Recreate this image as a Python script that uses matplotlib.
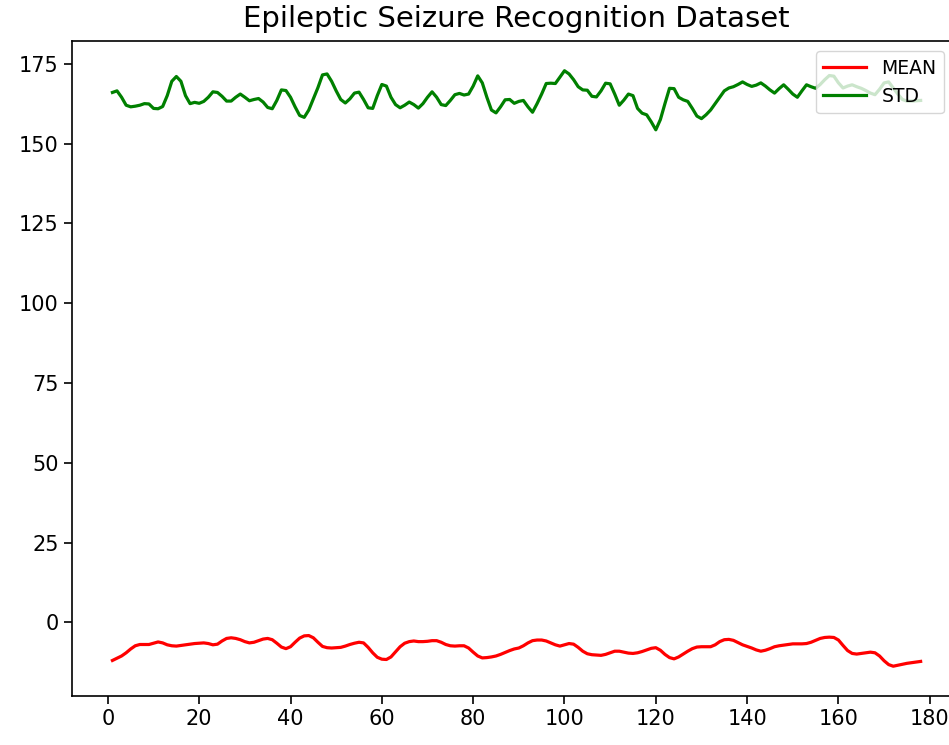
import numpy as np
import matplotlib
matplotlib.use("Agg")
import matplotlib.pyplot as plt

# feature index X1..X178
features = np.arange(1, 179)

# per-feature standard deviation
stdVals = [166.0, 166.5, 164.5, 162.0, 161.5, 161.7, 162.0, 162.5, 162.4, 161.0,
           160.9, 161.6, 165.0, 169.5, 171.0, 169.5, 165.0, 162.5, 162.9, 162.6,
           163.2, 164.5, 166.2, 166.0, 164.8, 163.3, 163.3, 164.5, 165.5, 164.5,
           163.4, 163.8, 164.1, 163.0, 161.3, 160.9, 163.5, 166.8, 166.6, 164.5,
           161.5, 158.8, 158.2, 160.5, 164.0, 167.5, 171.5, 171.8, 169.5, 166.5,
           163.8, 162.7, 164.0, 165.8, 166.1, 163.8, 161.2, 161.0, 165.0, 168.5,
           168.0, 164.5, 162.2, 161.2, 162.0, 163.0, 162.2, 161.1, 162.5, 164.5,
           166.2, 164.5, 162.2, 161.9, 163.5, 165.3, 165.7, 165.2, 165.5, 168.0,
           171.2, 169.0, 164.5, 160.5, 159.6, 161.5, 163.7, 163.8, 162.6, 163.2,
           163.5, 161.5, 159.8, 162.5, 165.5, 168.8, 168.9, 168.8, 170.8, 172.8,
           171.8, 170.0, 167.8, 166.8, 166.7, 164.8, 164.6, 166.5, 168.9, 168.7,
           165.5, 162.0, 163.6, 165.5, 165.0, 161.0, 159.5, 159.0, 156.8, 154.3,
           157.5, 162.5, 167.3, 167.2, 164.5, 163.7, 163.2, 161.0, 158.6, 157.8,
           159.0, 160.5, 162.5, 164.5, 166.5, 167.4, 167.8, 168.5, 169.3, 168.5,
           167.9, 168.3, 169.0, 168.0, 166.8, 165.8, 167.2, 168.4, 167.0, 165.5,
           164.5, 166.5, 168.4, 167.8, 167.3, 168.5, 170.0, 171.3, 171.1, 169.0,
           167.4, 168.0, 168.4, 167.8, 167.3, 166.6, 165.8, 165.3, 167.0, 169.0,
           169.3, 167.4, 165.5, 163.8, 163.3, 163.3, 163.4, 163.5]

# per-feature mean
meanVals = [-11.9, -11.2, -10.5, -9.5, -8.3, -7.3, -6.9, -6.9, -6.9, -6.5,
            -6.1, -6.4, -7.0, -7.3, -7.4, -7.2, -7.0, -6.8, -6.6, -6.5,
            -6.4, -6.6, -7.0, -6.8, -5.8, -5.0, -4.8, -5.0, -5.4, -6.0,
            -6.4, -6.2, -5.7, -5.2, -5.0, -5.4, -6.5, -7.7, -8.2, -7.6,
            -6.2, -4.9, -4.2, -4.1, -4.8, -6.2, -7.5, -7.9, -8.0, -7.9,
            -7.8, -7.4, -6.9, -6.5, -6.2, -6.4, -7.8, -9.5, -10.9, -11.5,
            -11.6, -10.8, -9.2, -7.6, -6.5, -6.0, -5.8, -6.0, -6.0, -5.9,
            -5.7, -5.7, -6.2, -6.9, -7.3, -7.4, -7.3, -7.3, -8.0, -9.3,
            -10.5, -11.1, -11.0, -10.8, -10.5, -10.0, -9.4, -8.8, -8.3, -8.0,
            -7.3, -6.4, -5.7, -5.5, -5.5, -5.8, -6.4, -7.0, -7.4, -7.0,
            -6.6, -6.8, -7.8, -9.0, -9.8, -10.1, -10.2, -10.3, -10.0, -9.5,
            -9.0, -9.0, -9.3, -9.6, -9.7, -9.5, -9.1, -8.6, -8.1, -7.9,
            -8.7, -10.0, -11.0, -11.4, -10.8, -9.9, -9.0, -8.2, -7.7, -7.6,
            -7.6, -7.6, -7.0, -6.0, -5.4, -5.3, -5.6, -6.3, -7.0, -7.5,
            -8.0, -8.6, -9.0, -8.7, -8.2, -7.6, -7.3, -7.1, -6.9, -6.7,
            -6.7, -6.7, -6.6, -6.2, -5.6, -5.0, -4.7, -4.6, -4.7, -5.5,
            -7.2, -8.8, -9.7, -9.9, -9.7, -9.5, -9.3, -9.5, -10.5, -12.0,
            -13.2, -13.7, -13.4, -13.1, -12.8, -12.6, -12.4, -12.2]

xTicks = [0, 20, 40, 60, 80, 100, 120, 140, 160, 180]
yTicks = [0, 25, 50, 75, 100, 125, 150, 175]

fig = plt.figure(figsize=(9.49, 7.45), dpi=100)
# axes runs past the right edge, like the cropped original
ax = fig.add_axes([0.0759, 0.0658, 0.9368, 0.8792])

ax.plot(features, meanVals, color="red", linewidth=2.3, label="MEAN")
ax.plot(features, stdVals, color="green", linewidth=2.3, label="STD")

ax.set_xticks(xTicks)
ax.set_yticks(yTicks)
ax.tick_params(labelsize=15, length=6, width=1.2)
for sp in ax.spines.values():
    sp.set_linewidth(1.2)

ax.set_title("Epileptic Seizure Recognition Dataset", fontsize=21, pad=10)

leg = ax.legend(loc="upper right", bbox_to_anchor=(944 / 949, 1 - 51 / 745),
                bbox_transform=fig.transFigure, borderaxespad=0,
                fontsize=13.5, framealpha=0.8, handlelength=2.3)
for line in leg.get_lines():
    line.set_linewidth(2.3)

plt.savefig("out.png", dpi=100)
plt.close()
